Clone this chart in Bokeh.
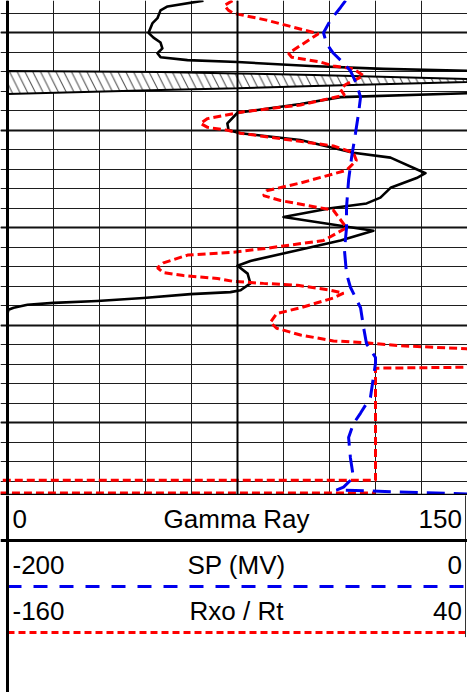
from bokeh.plotting import figure
from bokeh.models import Range1d, FixedTicker, SingleIntervalTicker, Span, Grid
from bokeh.layouts import column
from bokeh.embed import file_html
from bokeh.resources import INLINE
from bokeh.core.properties import value

# ---------------- data ----------------
GR_SCALE = (0, 150)        # API
SP_SCALE = (-200, 0)       # mV
RXO_SCALE = (-160, 40)     # Rxo / Rt

gr_depth = [5006.7, 5007.3, 5007.7, 5008.5, 5009.0, 5010.0, 5010.5, 5011.0, 5011.6, 5012.1,
            5012.5, 5012.8, 5013.0, 5013.4, 5013.7, 5013.9, 5015.0, 5016.2, 5016.6, 5017.3,
            5018.2, 5019.3, 5020.0, 5020.3, 5021.0, 5022.3, 5022.8, 5024.4, 5024.9, 5025.9,
            5026.9, 5027.5, 5028.0, 5028.9, 5030.3, 5031.3, 5032.3, 5033.4, 5033.9, 5034.7,
            5035.7, 5036.4, 5036.6, 5036.8, 5037.2, 5037.5, 5037.7, 5037.9, 5038.2, 5038.4,
            5038.8, 5057.5]
gamma_ray = [63.9, 52.2, 49.9, 48.9, 47.3, 46.0, 47.6, 49.9, 50.5, 48.9,
             49.9, 58.7, 75.0, 98.8, 122.6, 150.0, 156.0, 150.0, 108.6, 95.5,
             75.0, 71.7, 72.1, 76.0, 95.5, 112.8, 124.9, 136.3, 133.4, 124.9,
             121.6, 117.1, 105.3, 90.0, 119.3, 108.6, 94.6, 79.2, 75.0, 78.3,
             79.2, 76.0, 72.7, 59.7, 44.3, 29.3, 15.0, 6.5, 2.0, 0.3,
             0.0, 0.0]

sp_depth = [5006.7, 5007.4, 5008.7, 5010.0, 5011.1, 5012.1, 5013.1, 5013.9, 5015.2, 5016.6,
            5018.3, 5020.3, 5022.8, 5025.1, 5027.9, 5030.0, 5032.3, 5034.7, 5036.1, 5038.2,
            5040.2, 5041.9, 5043.3, 5043.9, 5047.4, 5049.0, 5050.1, 5051.5, 5053.6, 5055.6,
            5056.6, 5056.9, 5056.95, 5057.3]
sp_mv = [-53.0, -55.2, -59.6, -62.6, -61.3, -58.3, -53.9, -50.9, -48.3, -46.5,
         -47.4, -48.7, -50.4, -51.7, -52.6, -52.6, -53.5, -52.6, -50.9, -46.5,
         -45.2, -43.9, -40.0, -40.0, -42.2, -46.5, -49.6, -51.7, -50.9, -49.6,
         -53.9, -57.0, -48.7, 0.0]

rxo_depth = [5006.7, 5007.2, 5007.7, 5008.0, 5008.7, 5010.1, 5012.1, 5012.5, 5013.0, 5013.4,
             5013.7, 5014.4, 5015.3, 5015.8, 5016.4, 5017.4, 5018.1, 5018.8, 5019.3, 5019.7,
             5020.0, 5020.3, 5021.0, 5021.6, 5022.3, 5023.1, 5024.1, 5025.4, 5026.2, 5026.7,
             5027.2, 5028.2, 5030.0, 5031.3, 5032.1, 5032.5, 5032.8, 5033.6, 5034.1, 5034.6,
             5034.9, 5035.2, 5035.5, 5035.7, 5035.9, 5036.4, 5036.7, 5037.2, 5038.2, 5038.8,
             5039.7, 5040.3, 5041.0, 5041.6, 5041.8, 5042.1, 5042.4, 5043.3, 5044.3, 5044.4,
             5044.6, 5055.9, 5055.9, 5057.2, 5057.2]
rxo_rt = [-62.2, -65.7, -63.9, -61.7, -47.4, -24.8, -37.8, -36.5, -23.9, -18.3,
          -9.6, -5.2, -13.0, -15.2, -13.5, -32.6, -57.4, -73.0, -76.1, -73.0,
          -64.3, -58.7, -37.0, -18.3, -9.6, -8.3, -12.6, -32.6, -47.4, -48.7,
          -41.3, -18.3, -12.6, -22.6, -47.4, -61.7, -81.7, -92.2, -94.8, -92.2,
          -83.5, -68.7, -61.7, -48.7, -33.9, -19.6, -13.9, -18.3, -32.6, -43.0,
          -45.7, -43.0, -32.6, -18.3, -3.9, 10.9, 39.6, 50.0, 39.6, 0.4,
          0.0, 0.0, -166.0, -166.0, 0.0]

# hatched shale wedge (pinch-out)
shale_gr = [0, 50, 75, 100, 125, 150, 150, 100, 75, 50, 0]
shale_depth = [5013.92, 5014.02, 5014.17, 5014.33, 5014.53, 5014.74,
               5015.05, 5015.46, 5015.69, 5015.87, 5016.28]

track_bottom_depth = 5057.35
curve_names = ["Gamma Ray", "SP (MV)", "Rxo / Rt"]
left_labels = ["0", "-200", "-160"]
right_labels = ["150", "0", "40"]

# ---------------- layout ----------------
W = 467
H_TRACK = 495
H_HEAD = 197
PX_PER_GR = 460 / 150.0
PX_PER_FT = 9.75
x_start = -7 / PX_PER_GR
x_end = x_start + W / PX_PER_GR
depth_top = 5010 + (0 - 32.3) / PX_PER_FT
depth_bot = depth_top + H_TRACK / PX_PER_FT


def to_scale(g, scale):
    lo, hi = scale
    return lo + (g - GR_SCALE[0]) * (hi - lo) / (GR_SCALE[1] - GR_SCALE[0])


xr = Range1d(x_start, x_end)
p = figure(width=W, height=H_TRACK, x_range=xr,
           y_range=Range1d(depth_bot, depth_top),
           x_axis_type=None, y_axis_type=None,
           toolbar_location=None, output_backend="svg",
           min_border=0, outline_line_color=None)
p.extra_x_ranges = {
    "sp": Range1d(to_scale(x_start, SP_SCALE), to_scale(x_end, SP_SCALE)),
    "rxo": Range1d(to_scale(x_start, RXO_SCALE), to_scale(x_end, RXO_SCALE)),
}
p.background_fill_color = "white"
p.border_fill_color = "white"

vgrid = Grid(dimension=0, ticker=FixedTicker(ticks=list(range(0, 151, 15))),
             grid_line_color="#1e1e1e", grid_line_width=1)
hgrid = Grid(dimension=1, ticker=SingleIntervalTicker(interval=10, num_minor_ticks=5),
             grid_line_color="#111111", grid_line_width=2,
             minor_grid_line_color="#1e1e1e", minor_grid_line_width=1)
p.add_layout(vgrid)
p.add_layout(hgrid)
p.add_layout(Span(location=75, dimension="height", line_color="black", line_width=2))

# shale wedge
p.patch(shale_gr, shale_depth, fill_color="white", line_color="black", line_width=2,
        hatch_pattern="\\", hatch_scale=15.5, hatch_weight=1, hatch_color="#444444")

# curves
p.line(gamma_ray, gr_depth, line_color="black", line_width=2.6, line_join="round")
p.line(rxo_rt, rxo_depth, x_range_name="rxo", line_color="#ff0000", line_width=3,
       line_dash="8 4")
p.line(sp_mv, sp_depth, x_range_name="sp", line_color="#0000ee", line_width=3,
       line_dash="18 9")

p.add_layout(Span(location=0, dimension="height", line_color="black", line_width=3))
p.add_layout(Span(location=track_bottom_depth, dimension="width",
                  line_color="black", line_width=1.5))

# ---------------- header ----------------
ROW = 46.0
h = figure(width=W, height=H_HEAD, x_range=xr,
           y_range=Range1d((H_HEAD + 1) / ROW, 1 / ROW),
           x_axis_type=None, y_axis_type=None,
           toolbar_location=None, output_backend="svg",
           min_border=0, outline_line_color=None)
h.background_fill_color = "white"
h.border_fill_color = "white"

rows = [0, 1, 2]
baseline = [r + 0.54 for r in rows]
font = value("Liberation Sans")
h.text(x=[GR_SCALE[0]] * 3, y=baseline, text=left_labels, text_align="left",
       text_baseline="alphabetic", x_offset=5, text_font=font,
       text_font_size="26px", text_color="black")
h.text(x=[(GR_SCALE[0] + GR_SCALE[1]) / 2] * 3, y=baseline, text=curve_names,
       text_align="center", text_baseline="alphabetic", x_offset=-1,
       text_font=font, text_font_size="26px", text_color="black")
h.text(x=[GR_SCALE[1]] * 3, y=baseline, text=right_labels, text_align="right",
       text_baseline="alphabetic", x_offset=-5.5, text_font=font,
       text_font_size="26px", text_color="black")

h.add_layout(Span(location=1, dimension="width", line_color="black", line_width=3))
h.segment(x0=[GR_SCALE[0]], x1=[GR_SCALE[1]], y0=[2], y1=[2],
          line_color="#0000ee", line_width=3, line_dash="14 12")
h.segment(x0=[GR_SCALE[0]], x1=[GR_SCALE[1]], y0=[3], y1=[3],
          line_color="#ff0000", line_width=3, line_dash="7 4")
box_right = (465 - 7) / PX_PER_GR
h.segment(x0=[box_right], x1=[box_right], y0=[0], y1=[3.1],
          line_color="#333333", line_width=1)
h.add_layout(Span(location=0, dimension="height", line_color="black", line_width=3))

layout = column(p, h, spacing=0)
open("out.html", "w").write(file_html(layout, INLINE))
